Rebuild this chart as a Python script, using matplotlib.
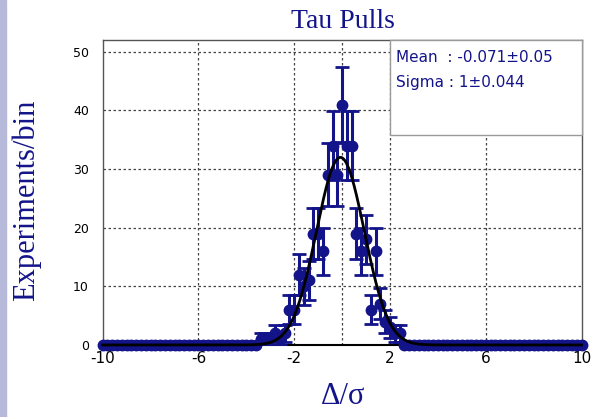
import numpy as np
import matplotlib
matplotlib.use("Agg")
import matplotlib.pyplot as plt
from matplotlib.patches import Rectangle

# bin centres of the pull histogram, width 0.2, from -10 to 10
bin_centers = np.linspace(-10, 10, 101)
counts = [
    0, 0, 0, 0, 0, 0, 0, 0, 0, 0,
    0, 0, 0, 0, 0, 0, 0, 0, 0, 0,
    0, 0, 0, 0, 0, 0, 0, 0, 0, 0,
    0, 0, 0, 1, 1, 1, 2, 1, 2, 6,
    6, 12, 10, 11, 19, 19, 16, 29, 34, 29,
    41, 34, 34, 19, 16, 18, 6, 16, 7, 4,
    3, 2, 2, 0, 0, 0, 0, 0, 0, 0,
    0, 0, 0, 0, 0, 0, 0, 0, 0, 0,
    0, 0, 0, 0, 0, 0, 0, 0, 0, 0,
    0, 0, 0, 0, 0, 0, 0, 0, 0, 0,
    0,
]

# gaussian fit result
fit_mean = -0.071
fit_mean_err = 0.05
fit_sigma = 1.0
fit_sigma_err = 0.044

x_ticks = [-10, -6, -2, 2, 6, 10]
y_ticks = [0, 10, 20, 30, 40, 50]

navy = "#14148a"
plt.rcParams["axes.unicode_minus"] = False

counts = np.array(counts, dtype=float)
bin_width = bin_centers[1] - bin_centers[0]

fig = plt.figure(figsize=(5.96, 4.17), dpi=100)
fig.patches.append(Rectangle((0, 0), 6 / 596, 1, transform=fig.transFigure,
                             color="#b6b9d9", zorder=0))
ax = fig.add_axes([0.1723, 0.1727, 0.9757 - 0.1723, 0.904 - 0.1727])

# grid
for gx in [-6, -2, 0, 2, 6]:
    ax.axvline(gx, color="#444444", lw=0.9, ls=(0, (2, 2)), zorder=1)
for gy in [10, 20, 30, 40, 50]:
    ax.axhline(gy, color="#444444", lw=0.9, ls=(0, (2, 2)), zorder=1)

# data with poisson errors
nz = counts > 0
ax.errorbar(bin_centers[nz], counts[nz], yerr=np.sqrt(counts[nz]), fmt="none",
            ecolor=navy, elinewidth=2.2, capsize=5, capthick=2, zorder=3)
ax.plot(bin_centers, counts, "o", color=navy, ms=7.5, clip_on=False, zorder=4)

# fitted gaussian
xf = np.linspace(-10, 10, 801)
norm = counts.sum() * bin_width / (np.sqrt(2 * np.pi) * fit_sigma)
ax.plot(xf, norm * np.exp(-0.5 * ((xf - fit_mean) / fit_sigma) ** 2),
        color="black", lw=2, zorder=5, clip_on=False)

ax.set_xlim(-10, 10)
ax.set_ylim(0, 52)
ax.set_xticks(x_ticks)
ax.set_yticks(y_ticks)
ax.tick_params(axis="x", length=0, pad=4, labelsize=11)
ax.tick_params(axis="y", length=0, pad=10, labelsize=9)
for s in ["left", "right", "top"]:
    ax.spines[s].set_color("#555555")
    ax.spines[s].set_linewidth(1)
ax.spines["bottom"].set_color("black")
ax.spines["bottom"].set_linewidth(1.5)

# fit statistics box
box = Rectangle((389.5, 417 - 134.7), 581.5 - 389.5, 134.7 - 40,
                transform=None, facecolor="white", edgecolor="#9a9a9a",
                lw=1, zorder=6)
fig.patches.append(box)
fig.text(396 / 596, 1 - 57 / 417,
         f"Mean  : {fit_mean}\u00b1{fit_mean_err}", color=navy,
         fontsize=11, va="center", ha="left", zorder=7)
fig.text(396 / 596, 1 - 82 / 417,
         f"Sigma : {fit_sigma:g}\u00b1{fit_sigma_err}", color=navy,
         fontsize=11, va="center", ha="left", zorder=7)

serif = ["Liberation Serif", "DejaVu Serif"]
fig.text(343 / 596, 1 - 21 / 417, "Tau Pulls", family=serif, fontsize=20,
         color=navy, ha="center", va="center")
fig.text(26 / 596, 1 - 200 / 417, "Experiments/bin", family=serif,
         fontsize=22, color=navy, rotation=90, ha="center", va="center")
fig.text(343 / 596, 1 - 396 / 417, "\u0394/\u03c3", family=serif,
         fontsize=22, color=navy, ha="center", va="center")

fig.savefig("out.png", dpi=100)
